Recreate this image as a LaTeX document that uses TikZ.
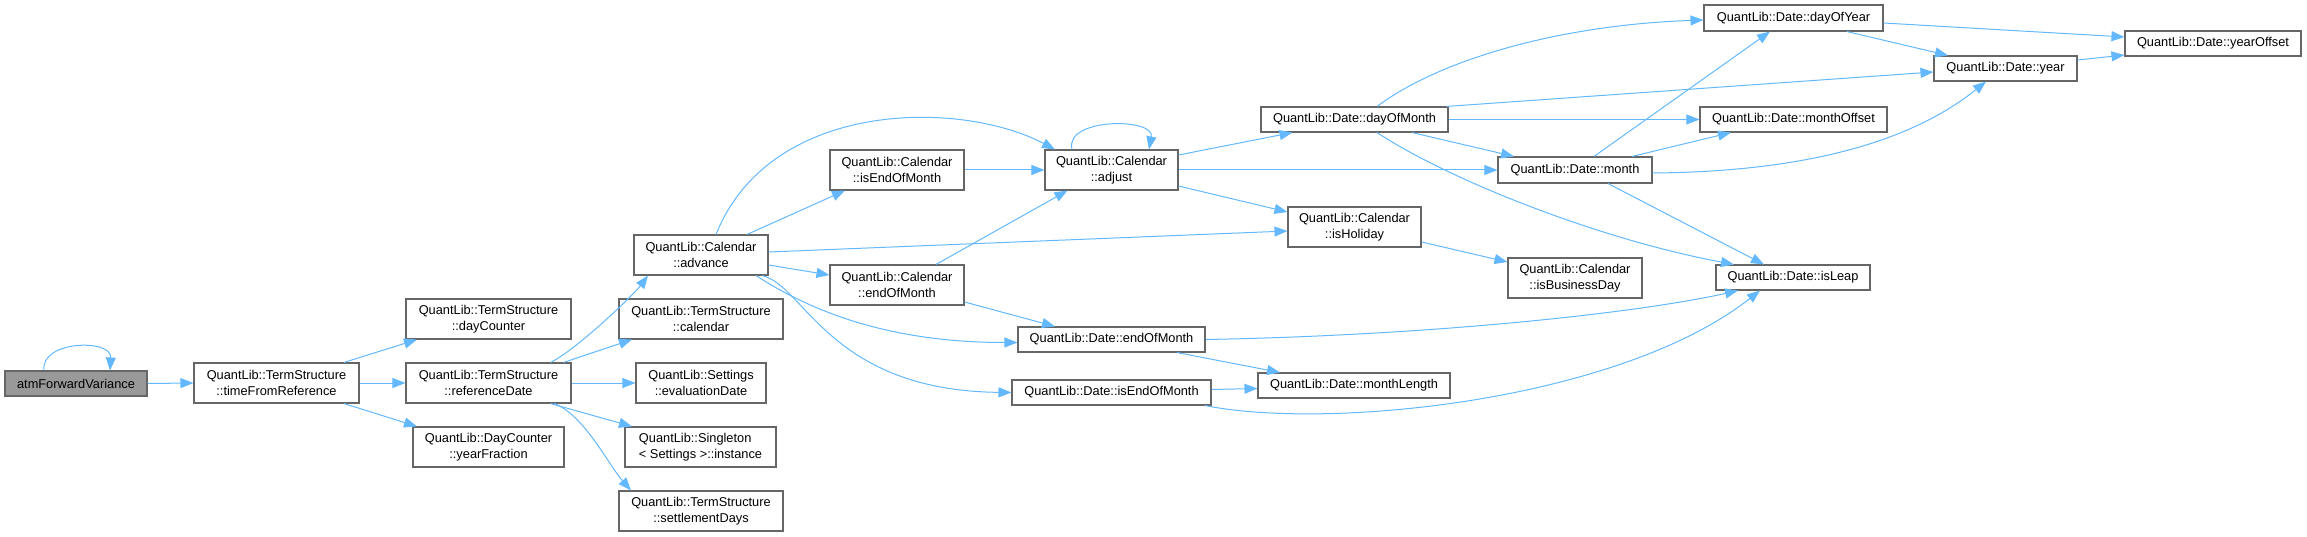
\documentclass[tikz,border=0pt]{standalone}
\usepackage{fontspec}
\setmainfont{Liberation Sans}
\usetikzlibrary{arrows.meta,calc}
\definecolor{edgeblue}{HTML}{63B8FF}
\definecolor{boxgray}{HTML}{666666}
\definecolor{rootgray}{HTML}{999999}

\begin{document}
\begin{tikzpicture}[x=1pt,y=-1pt,
    fn/.style={draw=boxgray,line width=1.1pt,fill=white,inner sep=0pt,align=center,
      font=\fontsize{12.8}{16}\selectfont},
    fnroot/.style={fn,fill=rootgray},
    call/.style={draw=edgeblue,line width=1pt,-{Triangle[length=13pt,width=10pt]}}]
        \useasboundingbox (0,0) rectangle (2307,537);
        % Functions
        \node[fnroot,minimum width=142,minimum height=25] (atm) at (76,383.5) {atmForwardVariance};
        \node[fn,minimum width=165,minimum height=40] (tfr) at (276.5,383) {QuantLib::TermStructure\\::timeFromReference};
        \node[fn,minimum width=165,minimum height=40] (daycounter) at (488.5,319) {QuantLib::TermStructure\\::dayCounter};
        \node[fn,minimum width=165,minimum height=40] (refdate) at (488.5,383) {QuantLib::TermStructure\\::referenceDate};
        \node[fn,minimum width=151,minimum height=40] (yearfrac) at (488.5,447) {QuantLib::DayCounter\\::yearFraction};
        \node[fn,minimum width=134,minimum height=40] (advance) at (701,255) {QuantLib::Calendar\\::advance};
        \node[fn,minimum width=164,minimum height=40] (calendar) at (701,319) {QuantLib::TermStructure\\::calendar};
        \node[fn,minimum width=130,minimum height=40] (evaldate) at (701,383) {QuantLib::Settings\\::evaluationDate};
        \node[fn,minimum width=151,minimum height=40,align=left] (singleton) at (700.5,447) {QuantLib::Singleton\\< Settings >::instance};
        \node[fn,minimum width=164,minimum height=40] (settledays) at (701,511) {QuantLib::TermStructure\\::settlementDays};
        \node[fn,minimum width=134,minimum height=40] (calisendofmonth) at (897,170) {QuantLib::Calendar\\::isEndOfMonth};
        \node[fn,minimum width=134,minimum height=40] (calendofmonth) at (897,285) {QuantLib::Calendar\\::endOfMonth};
        \node[fn,minimum width=133,minimum height=40] (adjust) at (1111.5,170) {QuantLib::Calendar\\::adjust};
        \node[fn,minimum width=187,minimum height=25] (dateendofmonth) at (1111.5,339.5) {QuantLib::Date::endOfMonth};
        \node[fn,minimum width=199,minimum height=25] (dateisendofmonth) at (1111.5,392.5) {QuantLib::Date::isEndOfMonth};
        \node[fn,minimum width=187,minimum height=25] (dayofmonth) at (1354.5,119.5) {QuantLib::Date::dayOfMonth};
        \node[fn,minimum width=133,minimum height=40] (isholiday) at (1354.5,227) {QuantLib::Calendar\\::isHoliday};
        \node[fn,minimum width=192,minimum height=25] (monthlength) at (1354,385.5) {QuantLib::Date::monthLength};
        \node[fn,minimum width=154,minimum height=26] (month) at (1575,170) {QuantLib::Date::month};
        \node[fn,minimum width=134,minimum height=40] (isbusinessday) at (1575,278) {QuantLib::Calendar\\::isBusinessDay};
        \node[fn,minimum width=179,minimum height=26] (dayofyear) at (1793.5,18) {QuantLib::Date::dayOfYear};
        \node[fn,minimum width=187,minimum height=25] (monthoffset) at (1793.5,119.5) {QuantLib::Date::monthOffset};
        \node[fn,minimum width=154,minimum height=25] (isleap) at (1793,277.5) {QuantLib::Date::isLeap};
        \node[fn,minimum width=143,minimum height=25] (year) at (2005.5,68.5) {QuantLib::Date::year};
        \node[fn,minimum width=176,minimum height=25] (yearoffset) at (2213,43.5) {QuantLib::Date::yearOffset};
        % Calls from the left part
        \draw[call] ([xshift=-32]atm.north) .. controls +(-4,-30) and +(2,-32) .. ([xshift=34]atm.north);
        \draw[call] (atm.east) -- (tfr.west);
        \draw[call] ([xshift=67.5]tfr.north) -- ([xshift=-71.5]daycounter.south);
        \draw[call] (tfr.east) -- (refdate.west);
        \draw[call] ([xshift=67.5]tfr.south) -- ([xshift=-71.5]yearfrac.north);
        \draw[call] ([xshift=62]refdate.north) .. controls +(25,-12) and +(-15,20) .. ([xshift=-53]advance.south);
        \draw[call] ([xshift=75]refdate.north) -- ([xshift=-69]calendar.south);
        \draw[call] (refdate.east) -- (evaldate.west);
        \draw[call] ([xshift=62]refdate.south) -- ([xshift=-68.5]singleton.north);
        \draw[call] ([xshift=66]refdate.south) .. controls +(30,12) and +(-22,-25) .. ([xshift=-70]settledays.north);
        % Calendar::advance
        \draw[call] ([xshift=15]advance.north) .. controls +(54,-135) and +(-95,-50) .. ([xshift=-56.5]adjust.north);
        \draw[call] ([xshift=46]advance.north) -- ([xshift=-52]calisendofmonth.south);
        \draw[call] ([yshift=3]advance.east) -- ([yshift=-4]isholiday.west);
        \draw[call] ([yshift=-10]advance.east) -- ([yshift=10]calendofmonth.west);
        \draw[call] ([xshift=55]advance.south) .. controls +(54,35) and +(-130,0) .. ([yshift=-3]dateendofmonth.west);
        \draw[call] ([xshift=61]advance.south) .. controls +(43,10) and +(-182,-2) .. (dateisendofmonth.west);
        \draw[call] (calisendofmonth.east) -- (adjust.west);
        \draw[call] ([xshift=39]calendofmonth.north) -- ([xshift=-44]adjust.south);
        \draw[call] ([yshift=-17]calendofmonth.east) -- ([xshift=-56.5]dateendofmonth.north);
        % Calendar::adjust
        \draw[call] ([xshift=-39.5]adjust.north) .. controls +(-8,-32) and +(6,-32) .. ([xshift=37.5]adjust.north);
        \draw[call] ([yshift=15]adjust.east) -- ([xshift=-62]dayofmonth.south);
        \draw[call] (adjust.east) -- (month.west);
        \draw[call] ([yshift=-16]adjust.east) -- ([yshift=15]isholiday.west);
        \draw[call] ([yshift=-15]isholiday.east) -- ([yshift=16]isbusinessday.west);
        % Date functions
        \draw[call] ([xshift=22.5]dayofmonth.north) .. controls +(63,-47) and +(-144,5) .. ([yshift=-2]dayofyear.west);
        \draw[call] ([xshift=92]dayofmonth.north) -- ([yshift=-3.5]year.west);
        \draw[call] (dayofmonth.east) -- (monthoffset.west);
        \draw[call] ([xshift=57.5]dayofmonth.south) -- ([xshift=-61]month.north);
        \draw[call] ([xshift=22.5]dayofmonth.south) .. controls +(73,48) and +(-134,-25) .. ([xshift=-59]isleap.north);
        \draw[call] ([xshift=19]month.north) -- ([xshift=-23.5]dayofyear.south);
        \draw[call] ([xshift=57]month.north) -- ([xshift=-62.5]monthoffset.south);
        \draw[call] ([yshift=-3]month.east) .. controls +(128,-1) and +(-86,69) .. ([xshift=-19.5]year.south);
        \draw[call] ([xshift=33]month.south) -- ([xshift=-29]isleap.north);
        \draw[call] ([yshift=-5]dayofyear.east) -- ([yshift=6.5]yearoffset.west);
        \draw[call] ([xshift=53.5]dayofyear.south) -- ([xshift=-57.5]year.north);
        \draw[call] ([yshift=8.5]year.east) -- ([yshift=-11.5]yearoffset.west);
        \draw[call] (dateendofmonth.east) .. controls +(245,-4.5) and +(-88,20) .. ([xshift=-55]isleap.south);
        \draw[call] ([xshift=65.5]dateendofmonth.south) -- ([xshift=-74]monthlength.north);
        \draw[call] ([yshift=3]dateisendofmonth.east) -- ([yshift=-3]monthlength.west);
        \draw[call] ([xshift=93.5]dateisendofmonth.south) .. controls +(125,25) and +(-140,110) .. ([xshift=-33]isleap.south);
\end{tikzpicture}
\end{document}
